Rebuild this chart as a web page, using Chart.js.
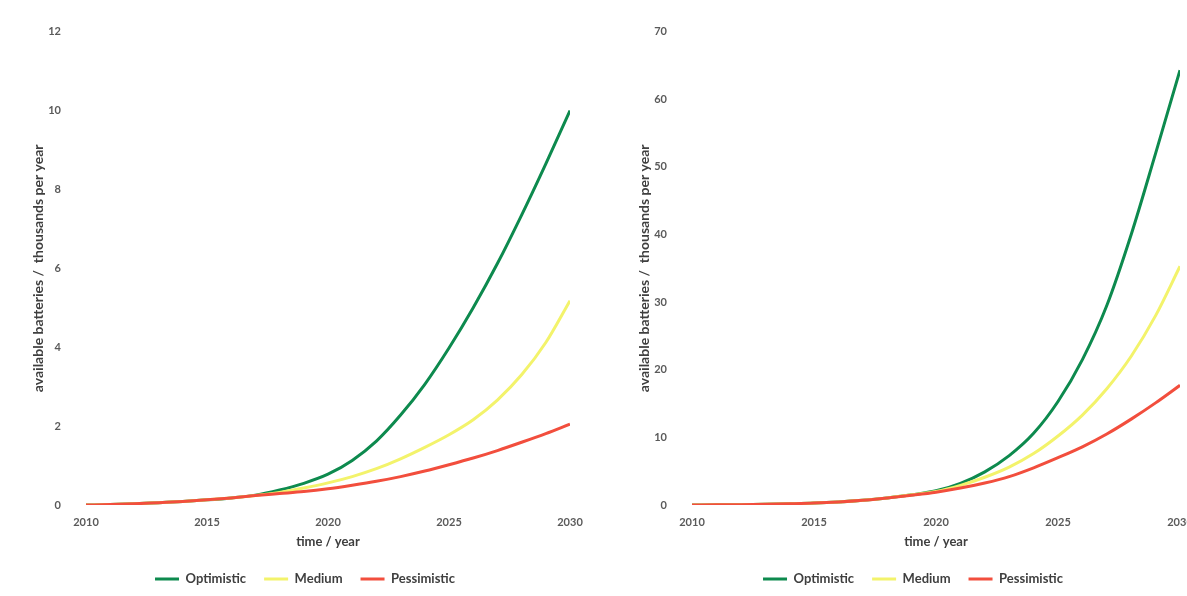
<!DOCTYPE html>
<html>
<head>
<meta charset="utf-8">
<script src="https://cdn.jsdelivr.net/npm/chart.js@4.4.1/dist/chart.umd.min.js"></script>
<style>
  html, body { margin: 0; padding: 0; background: #fff; overflow: hidden; width: 1187px; height: 596px; }
  .panel { position: absolute; top: 0; width: 600px; height: 596px; }
  #leftPanel { left: 0; }
  #rightPanel { left: 606px; }
</style>
</head>
<body>
<div class="panel" id="leftPanel"><canvas id="chartLeft" width="600" height="596"></canvas></div>
<div class="panel" id="rightPanel"><canvas id="chartRight" width="600" height="596"></canvas></div>
<script>
// yearly values, thousands of batteries per year
const years = [2010, 2011, 2012, 2013, 2014, 2015, 2016, 2017, 2018, 2019, 2020,
               2021, 2022, 2023, 2024, 2025, 2026, 2027, 2028, 2029, 2030];
const seriesNames = ["Optimistic", "Medium", "Pessimistic"];
const seriesColors = ["#0d8a4e", "#f3f36b", "#f24e3d"];

const leftOptimistic = [0, 0.01, 0.03, 0.06, 0.09, 0.13, 0.18, 0.25, 0.38, 0.55, 0.78,
                        1.13, 1.62, 2.28, 3.06, 3.98, 5.0, 6.12, 7.35, 8.65, 10.0];
const leftMedium = [0, 0.01, 0.03, 0.06, 0.09, 0.13, 0.18, 0.24, 0.32, 0.43, 0.56,
                    0.72, 0.92, 1.17, 1.46, 1.78, 2.16, 2.66, 3.3, 4.12, 5.18];
const leftPessimistic = [0, 0.01, 0.03, 0.06, 0.09, 0.13, 0.18, 0.24, 0.29, 0.34, 0.41,
                         0.5, 0.6, 0.72, 0.86, 1.02, 1.19, 1.38, 1.59, 1.81, 2.05];

const rightOptimistic = [0, 0.02, 0.05, 0.1, 0.18, 0.28, 0.45, 0.7, 1.05, 1.5, 2.1,
                         3.2, 4.9, 7.3, 10.6, 15.3, 21.5, 29.5, 40, 52, 64.3];
const rightMedium = [0, 0.02, 0.05, 0.1, 0.18, 0.28, 0.45, 0.7, 1.05, 1.5, 2.0,
                     2.9, 4.1, 5.6, 7.6, 10.2, 13.3, 17.2, 22.0, 28.0, 35.3];
const rightPessimistic = [0, 0.02, 0.05, 0.1, 0.18, 0.28, 0.45, 0.7, 1.05, 1.45, 1.9,
                          2.5, 3.25, 4.2, 5.5, 7.0, 8.6, 10.5, 12.7, 15.1, 17.7];

const xTicks = [2010, 2015, 2020, 2025, 2030];
const leftYTicks = [0, 2, 4, 6, 8, 10, 12];
const rightYTicks = [0, 10, 20, 30, 40, 50, 60, 70];

const fontFamily = "Lato, 'Open Sans', sans-serif";

// nudges the legend row sideways after layout
const legendShift = {
  id: "legendShift",
  afterLayout(chart, args, opts) {
    chart.legend.left += opts.dx;
    chart.legend.right += opts.dx;
  },
};

function createBatteryChart(canvasId, arrSeries, arrYTicks, padTop, padRight) {
  const datasets = arrSeries.map((values, i) => ({
    label: seriesNames[i],
    data: values.map((v, j) => ({ x: years[j], y: v })),
    borderColor: seriesColors[i],
    backgroundColor: seriesColors[i],
    borderWidth: 3,
    pointRadius: 0,
    cubicInterpolationMode: "monotone",
  }));

  return new Chart(document.getElementById(canvasId), {
    type: "line",
    plugins: [legendShift],
    // pessimistic first so it sits on top where the curves overlap
    data: { datasets: datasets.reverse() },
    options: {
      responsive: false,
      animation: false,
      layout: { padding: { left: 26, top: padTop, right: padRight, bottom: 0.5 } },
      scales: {
        x: {
          type: "linear",
          min: xTicks[0],
          max: xTicks[xTicks.length - 1],
          afterBuildTicks: (scale) => { scale.ticks = xTicks.map((v) => ({ value: v })); },
          afterFit: (scale) => { scale.height = 49.5; },
          grid: { display: false, drawTicks: false },
          border: { display: false },
          ticks: {
            padding: 11,
            color: "#5a5a5a",
            font: { family: fontFamily, size: 11, weight: "bold" },
            callback: (v) => String(v),
          },
          title: {
            display: true,
            text: "time / year",
            color: "#3f3f3f",
            padding: { top: 0, bottom: 5 },
            font: { family: fontFamily, size: 13, weight: "bold" },
          },
        },
        y: {
          min: 0,
          max: arrYTicks[arrYTicks.length - 1],
          afterBuildTicks: (scale) => { scale.ticks = arrYTicks.map((v) => ({ value: v })); },
          afterFit: (scale) => { scale.width = 60; },
          grid: { display: false, drawTicks: false },
          border: { display: false },
          ticks: {
            padding: 25,
            color: "#5a5a5a",
            font: { family: fontFamily, size: 11, weight: "bold" },
          },
          title: {
            display: true,
            text: "available batteries /  thousands per year",
            color: "#3f3f3f",
            padding: { top: 4, bottom: 0 },
            font: { family: fontFamily, size: 14, weight: "bold" },
          },
        },
      },
      plugins: {
        legendShift: { dx: 7 },
        tooltip: { enabled: false },
        legend: {
          position: "bottom",
          reverse: true,
          labels: {
            boxWidth: 24,
            boxHeight: 3,
            padding: 18,
            color: "#3f3f3f",
            font: { family: fontFamily, size: 13, weight: "bold" },
            generateLabels: (chart) => {
              const items = Chart.defaults.plugins.legend.labels.generateLabels(chart);
              items.forEach((item) => { item.lineWidth = 0; });
              return items;
            },
          },
        },
      },
    },
  });
}

createBatteryChart("chartLeft", [leftOptimistic, leftMedium, leftPessimistic], leftYTicks, 31, 30);
createBatteryChart("chartRight", [rightOptimistic, rightMedium, rightPessimistic], rightYTicks, 28, 26);
</script>
</body>
</html>
